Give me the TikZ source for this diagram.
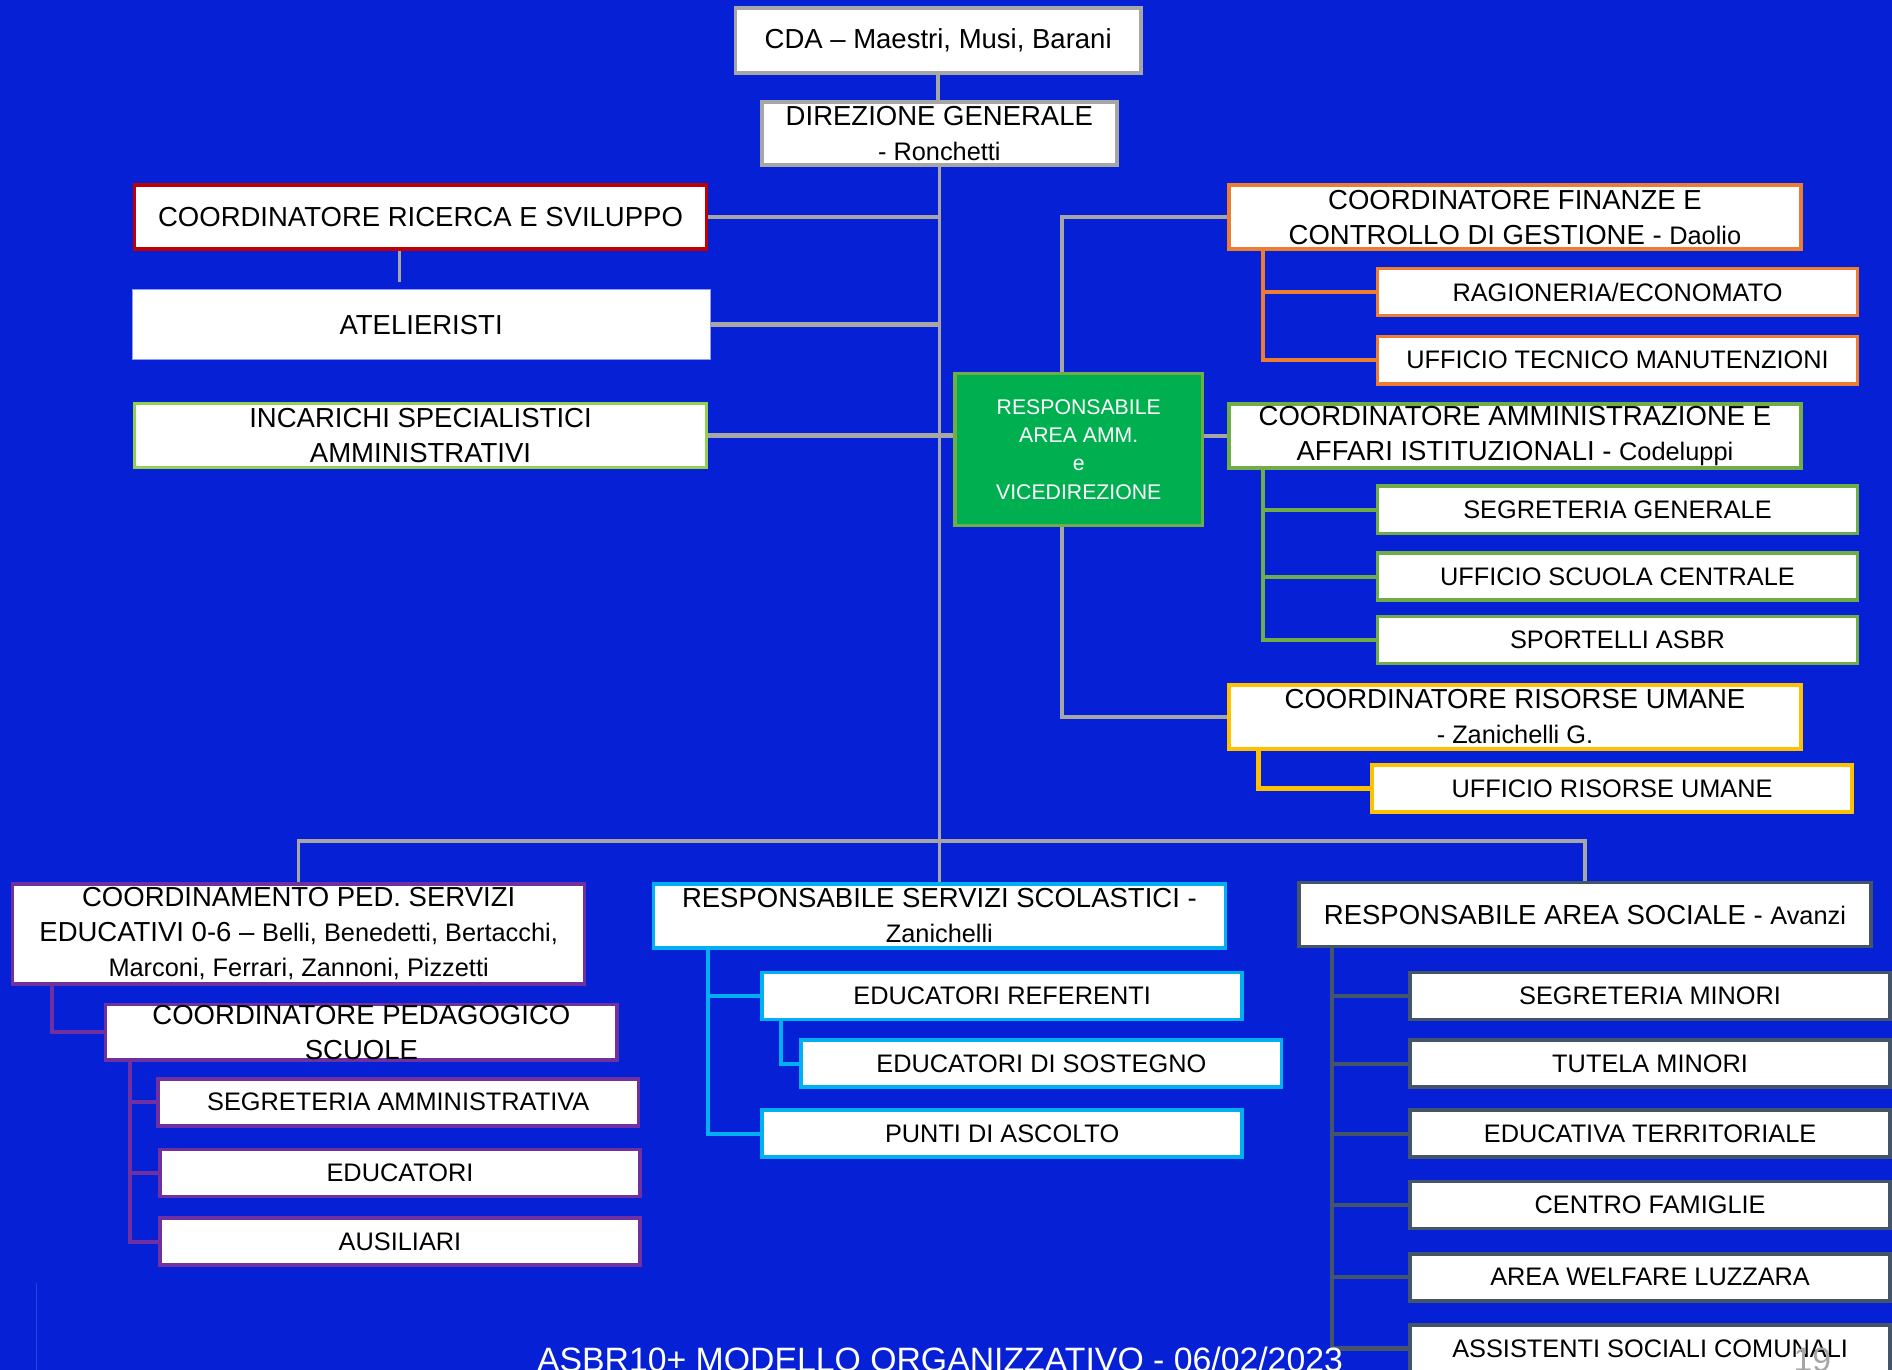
\documentclass[tikz,border=0pt]{standalone}
\usepackage{fontspec}
\setmainfont{Liberation Sans}
\usetikzlibrary{positioning, calc}

\definecolor{sfondo}{RGB}{6,32,214}
\definecolor{grigio}{HTML}{A6A6A6}
\definecolor{rosso}{HTML}{C00000}
\definecolor{arancio}{HTML}{ED7D31}
\definecolor{verdechiaro}{HTML}{92D050}
\definecolor{verde}{HTML}{70AD47}
\definecolor{verdepieno}{HTML}{00B050}
\definecolor{giallo}{HTML}{FFC000}
\definecolor{viola}{HTML}{7030A0}
\definecolor{azzurro}{HTML}{00B0F0}
\definecolor{ardesia}{HTML}{44546A}

\newcommand{\nome}[1]{{\fontsize{10.5}{14.5}\selectfont #1}}

\begin{document}
\begin{tikzpicture}[x=0.5pt, y=-0.5pt]
        % Style definitions
        \tikzstyle{box} = [draw, fill=white, rectangle, line width=1.5pt, inner sep=0pt, align=center, font=\fontsize{11.4}{14.5}\selectfont]
        \tikzstyle{bigbox} = [box, minimum width=237pt, minimum height=26.5pt]
        \tikzstyle{smallbox} = [box, minimum width=199pt, minimum height=19.5pt, font=\fontsize{10.5}{13}\selectfont]
        \tikzstyle{conn} = [line width=1.5pt, draw=grigio]
        \tikzstyle{sub} = [line width=1.75pt]

        % Background
        \useasboundingbox (0,0) rectangle (1568,1135);
        \clip (0,0) rectangle (1568,1135);
        \fill[sfondo] (0,0) rectangle (1568,1135);
        \draw[sfondo!85!white, line width=0.4pt] (30,1063) -- (30,1135);

        % Top nodes
        \node [box, draw=grigio, minimum width=168pt, minimum height=27pt] (cda) at (777.5,33.5) {CDA -- Maestri, Musi, Barani};
        \node [box, draw=grigio, minimum width=147pt, minimum height=26pt] (dg) at (778.5,110.5) {DIREZIONE GENERALE\\ \nome{- Ronchetti}};

        % Left column
        \node [bigbox, draw=rosso] (ricerca) at (348.5,180) {COORDINATORE RICERCA E SVILUPPO};
        \node [bigbox, draw=sfondo!45!white, line width=0.5pt, minimum width=239.5pt, minimum height=29pt] (atelieristi) at (349,269) {ATELIERISTI};
        \node [bigbox, draw=verdechiaro] (incarichi) at (348.5,361) {INCARICHI SPECIALISTICI\\ AMMINISTRATIVI};

        % Area amministrativa
        \node [box, draw=verde, fill=verdepieno, text=white, minimum width=102.5pt, minimum height=63pt, font=\fontsize{8.8}{11.75}\selectfont] (vice) at (894,372.5) {RESPONSABILE\\ AREA AMM.\\ e\\ VICEDIREZIONE};
        \node [bigbox, draw=arancio] (finanze) at (1255.5,180) {COORDINATORE FINANZE E\\ CONTROLLO DI GESTIONE - \nome{Daolio}};
        \node [smallbox, draw=arancio] (ragioneria) at (1340.5,242) {RAGIONERIA/ECONOMATO};
        \node [smallbox, draw=arancio] (tecnico) at (1340.5,298.5) {UFFICIO TECNICO MANUTENZIONI};
        \node [bigbox, draw=verde] (amm) at (1255.5,361.5) {COORDINATORE AMMINISTRAZIONE E\\ AFFARI ISTITUZIONALI - \nome{Codeluppi}};
        \node [smallbox, draw=verde] (seggen) at (1340.5,422.5) {SEGRETERIA GENERALE};
        \node [smallbox, draw=verde] (scuola) at (1340.5,478) {UFFICIO SCUOLA CENTRALE};
        \node [smallbox, draw=verde] (sportelli) at (1340.5,530.5) {SPORTELLI ASBR};
        \node [bigbox, draw=giallo] (rumane) at (1255.5,594) {COORDINATORE RISORSE UMANE\\ \nome{- Zanichelli G.}};
        \node [smallbox, draw=giallo] (ufficiorum) at (1336,653.5) {UFFICIO RISORSE UMANE};

        % Bottom row
        \node [bigbox, draw=viola, minimum height=41.5pt] (coordped) at (247.5,774) {COORDINAMENTO PED. SERVIZI\\ EDUCATIVI 0-6 -- \nome{Belli, Benedetti, Bertacchi,}\\ \nome{Marconi, Ferrari, Zannoni, Pizzetti}};
        \node [box, draw=viola, minimum width=212pt, minimum height=23pt] (pedscuole) at (299.5,855.5) {COORDINATORE PEDAGOGICO\\ SCUOLE};
        \node [smallbox, draw=viola] (segamm) at (330,913.5) {SEGRETERIA AMMINISTRATIVA};
        \node [smallbox, draw=viola] (educatori) at (331.5,972) {EDUCATORI};
        \node [smallbox, draw=viola] (ausiliari) at (331.5,1029) {AUSILIARI};

        \node [bigbox, draw=azzurro] (scolastici) at (778.5,759) {RESPONSABILE SERVIZI SCOLASTICI -\\ \nome{Zanichelli}};
        \node [smallbox, draw=azzurro] (referenti) at (830.5,825.5) {EDUCATORI REFERENTI};
        \node [smallbox, draw=azzurro] (sostegno) at (863,881.5) {EDUCATORI DI SOSTEGNO};
        \node [smallbox, draw=azzurro] (ascolto) at (830.5,939.5) {PUNTI DI ASCOLTO};

        \node [bigbox, draw=ardesia] (sociale) at (1313.5,758) {RESPONSABILE AREA SOCIALE - \nome{Avanzi}};
        \node [smallbox, draw=ardesia] (minori) at (1367.5,825.5) {SEGRETERIA MINORI};
        \node [smallbox, draw=ardesia] (tutela) at (1367.5,881.5) {TUTELA MINORI};
        \node [smallbox, draw=ardesia] (territoriale) at (1367.5,939.5) {EDUCATIVA TERRITORIALE};
        \node [smallbox, draw=ardesia] (famiglie) at (1367.5,998.5) {CENTRO FAMIGLIE};
        \node [smallbox, draw=ardesia] (luzzara) at (1367.5,1058.5) {AREA WELFARE LUZZARA};
        \node [smallbox, draw=ardesia] (assistenti) at (1367.5,1117.5) {ASSISTENTI SOCIALI COMUNALI};

        % Main connectors
        \coordinate (bus) at (778.5,697);
        \draw [conn] (cda.south) -- (cda.south |- dg.north);
        \draw [conn] (dg.south) -- (scolastici.north);
        \draw [conn, line width=1.8pt] (ricerca.east) -- (ricerca.east -| dg.south);
        \draw [conn, line width=1.8pt] (atelieristi.east) -- (atelieristi.east -| dg.south);
        \draw [conn, line width=1.8pt] (incarichi.east) -- (incarichi.east -| vice.west);
        \draw [conn, line width=1.8pt] (vice.east |- amm.west) -- (amm.west);
        \draw [conn] ([xshift=-8.75pt]ricerca.south) -- ([xshift=-8.75pt, yshift=3pt]ricerca.south |- atelieristi.north);
        \draw [conn] ([xshift=-7pt]vice.north) |- (finanze.west);
        \draw [conn] ([xshift=-7pt]vice.south) |- (rumane.west);
        \draw [conn] (coordped.north) |- (bus) -| (sociale.north);

        % Sub connectors
        \draw [sub, arancio] ([xshift=15pt]finanze.south west) |- (ragioneria.west);
        \draw [sub, arancio] ([xshift=15pt]finanze.south west) |- (tecnico.west);
        \foreach \n in {seggen, scuola, sportelli}
          \draw [sub, verde] ([xshift=15pt]amm.south west) |- (\n.west);
        \draw [sub, giallo] ([xshift=13pt]rumane.south west) |- (ufficiorum.west);
        \draw [sub, viola] ([xshift=17pt]coordped.south west) |- (pedscuole.west);
        \foreach \n in {segamm, educatori, ausiliari}
          \draw [sub, viola] ([xshift=11pt]pedscuole.south west) |- (\n.west);
        \draw [sub, azzurro] ([xshift=23.5pt]scolastici.south west) |- (referenti.west);
        \draw [sub, azzurro] ([xshift=23.5pt]scolastici.south west) |- (ascolto.west);
        \draw [sub, azzurro] ([xshift=8.5pt]referenti.south west) |- (sostegno.west);
        \foreach \n in {minori, tutela, territoriale, famiglie, luzzara, assistenti}
          \draw [sub, ardesia] ([xshift=14.5pt]sociale.south west) |- (\n.west);

        % Footer
        \node [anchor=base, text=white, font=\fontsize{14}{16}\selectfont] (footer) at (779,1137) {ASBR10+ MODELLO ORGANIZZATIVO - 06/02/2023};
        \node [anchor=base, text=grigio, font=\fontsize{14}{16}\selectfont] (pagina) at (1502,1137) {19};
\end{tikzpicture}
\end{document}
